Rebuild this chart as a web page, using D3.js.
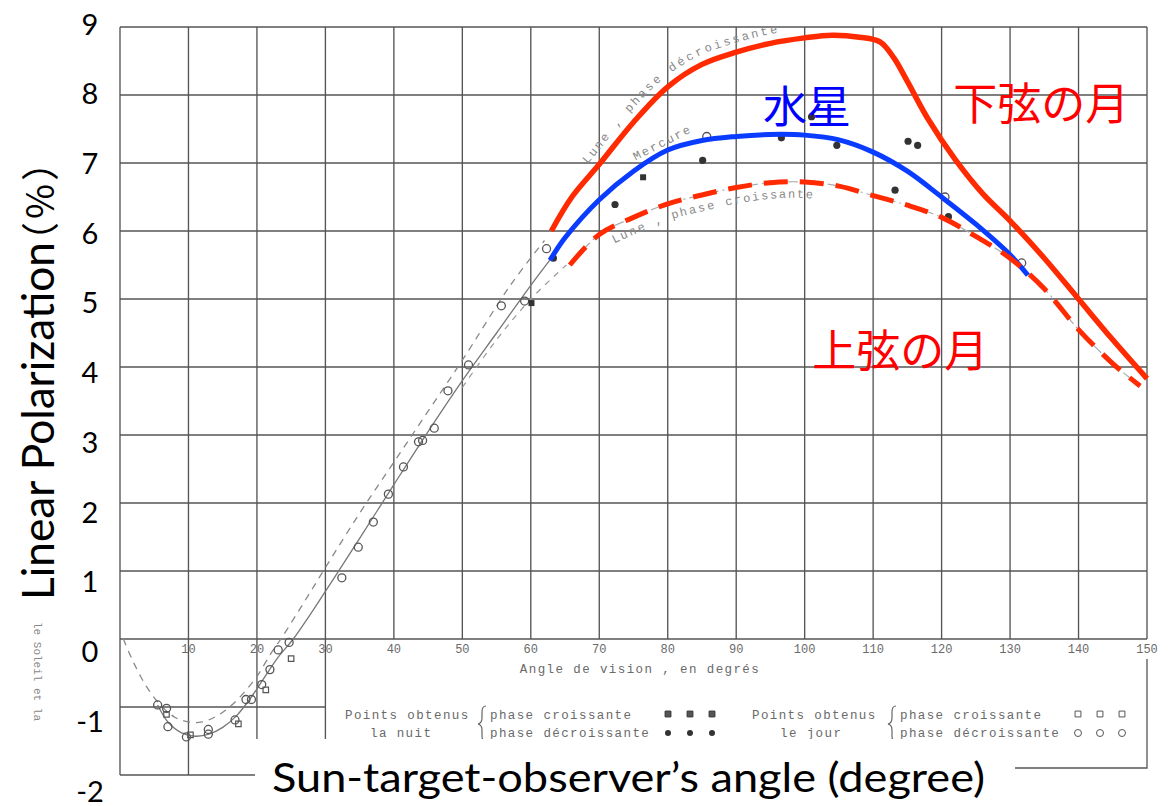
<!DOCTYPE html>
<html>
<head>
<meta charset="utf-8">
<style>
  body { margin: 0; background: #fff; }
  .grid line { stroke: #555; stroke-width: 1.35px; }
  .scan text { font-family: "Liberation Mono", monospace; fill: #6a6a6a; }
  path.curve { fill: none; }
  .overlay text { font-family: Lato, "Noto Sans CJK JP", sans-serif; fill: #000; }
  .jp { font-family: "Noto Sans CJK JP", sans-serif; }
</style>
</head>
<body>
<script src="https://cdn.jsdelivr.net/npm/d3@7"></script>
<script>

    var width = 1175;
    var height = 806;

    // scan grid + tick labels
    var gridAngles = d3.range(0, 151, 10);
    var gridValues = d3.range(-2, 10);
    var xTickLabels = [10, 20, 30, 40, 50, 60, 70, 80, 90, 100, 110, 120, 130, 140, 150];
    var yTickLabels = [9, 8, 7, 6, 5, 4, 3, 2, 1, 0, -1, -2];

    // overlaid curves [angle, polarization %]
    var moonWaning = [[63, 6.0], [66, 6.5], [70, 6.98], [75, 7.6], [80, 8.12], [85, 8.45], [90, 8.63],
        [95, 8.76], [100, 8.84], [104, 8.88], [108, 8.85], [111, 8.78], [113, 8.55], [115, 8.2],
        [118, 7.65], [122, 7.05], [126, 6.55], [130, 6.15], [135, 5.6], [140, 5.0], [145, 4.4], [150, 3.83]];
    var mercury = [[62.8, 5.57], [65, 5.9], [70, 6.46], [75, 6.88], [80, 7.19], [85, 7.33], [90, 7.39],
        [95, 7.42], [100, 7.41], [105, 7.34], [110, 7.16], [115, 6.88], [120, 6.5], [125, 6.1],
        [130, 5.65], [132.6, 5.35]];
    var moonWaxing = [[65.7, 5.5], [70, 5.95], [75, 6.2], [80, 6.4], [85, 6.53], [90, 6.64], [95, 6.71],
        [100, 6.72], [105, 6.66], [110, 6.52], [115, 6.38], [120, 6.2], [125, 5.92], [130, 5.6],
        [135, 5.15], [140, 4.55], [145, 4.05], [149, 3.72]];

    // original scan curves
    var scanSolid = [[5.5, -0.97], [7, -1.22], [9, -1.38], [11, -1.43], [13, -1.4], [15, -1.3], [17, -1.13],
        [19, -0.88], [21, -0.58], [23, -0.28], [25.3, 0], [30, 0.7], [35, 1.48], [40, 2.27], [45, 3.05],
        [50, 3.8], [55, 4.5], [60, 5.2], [63, 5.6]];
    var scanDashed = [[0.5, 0], [2, -0.35], [4, -0.72], [6, -0.98], [8, -1.15], [10, -1.22], [12, -1.22],
        [14, -1.14], [16, -1.0], [18, -0.8], [20, -0.55], [22, -0.22], [23.5, 0], [27, 0.56], [30, 1.05],
        [35, 1.85], [40, 2.6], [45, 3.35], [50, 4.1], [57, 5.2], [62, 5.86]];
    var scanDashed2 = [[50, 3.7], [55, 4.4], [60, 5.0], [65.2, 5.5]];

    // measured points
    var openPoints = [[5.5, -0.97], [6.8, -1.02], [7, -1.29], [9.7, -1.44], [12.9, -1.4], [12.9, -1.33],
        [16.8, -1.19], [18.4, -0.89], [19.2, -0.89], [20.7, -0.67], [21.9, -0.45], [23.1, -0.16],
        [24.7, -0.05], [32.4, 0.9], [34.8, 1.35], [37, 1.72], [39.2, 2.13], [41.4, 2.53], [43.6, 2.9],
        [44.2, 2.92], [45.9, 3.1], [47.9, 3.65], [50.9, 4.03], [55.7, 4.9], [59.1, 4.97], [62.3, 5.74],
        [85.7, 7.39], [120.5, 6.5], [131.7, 5.53]];
    var openSquares = [[6.5, -1.08], [10, -1.38], [17, -1.22], [21, -0.72], [24.7, -0.26]];
    var filledSquares = [[60.1, 4.94], [76.4, 6.79]];
    var filledPoints = [[63.3, 5.6], [72.3, 6.39], [85.1, 7.04], [96.6, 7.37], [101, 7.68], [104.7, 7.26],
        [113.2, 6.6], [115.1, 7.32], [116.5, 7.26], [121, 6.21]];

    var svg = d3.select("body").append("svg")
        .attr("width", width)
        .attr("height", height);

    var x = d3.scaleLinear().domain([0, 150]).range([120, 1147]);
    var y = d3.scaleLinear().domain([-2, 9]).range([775, 27]);
    var yLab = d3.scaleLinear().domain([-2, 9]).range([790, 23]);

    var line = d3.line()
        .x(function (d) { return x(d[0]); })
        .y(function (d) { return y(d[1]); })
        .curve(d3.curveCatmullRom.alpha(0.5));

    // --- scanned chart ---
    var scan = svg.append("g").attr("class", "scan");
    var grid = scan.append("g").attr("class", "grid");

    grid.selectAll("line.v").data(gridAngles).enter().append("line")
        .attr("x1", function (d) { return x(d); })
        .attr("x2", function (d) { return x(d); })
        .attr("y1", y(9))
        .attr("y2", function (d) { return d <= 30 ? y(-2) : y(0); });

    grid.selectAll("line.h").data(gridValues).enter().append("line")
        .attr("x1", x(0))
        .attr("x2", function (d) { return d < 0 ? x(30) : x(150); })
        .attr("y1", function (d) { return y(d); })
        .attr("y2", function (d) { return y(d); });

    scan.selectAll("text.xt").data(xTickLabels).enter().append("text")
        .attr("x", function (d) { return x(d); })
        .attr("y", y(0) + 14)
        .attr("text-anchor", "middle")
        .style("font-size", "12px")
        .text(function (d) { return d; });

    scan.append("text")
        .attr("x", 640).attr("y", 673)
        .attr("text-anchor", "middle")
        .style("font-size", "12.5px").style("letter-spacing", "1.4px")
        .text("Angle de vision , en degrés");

    var legendRows = [
        {x: 345, y: 719, t: "Points obtenus"}, {x: 370, y: 737, t: "la nuit"},
        {x: 490, y: 719, t: "phase croissante"}, {x: 490, y: 737, t: "phase décroissante"},
        {x: 752, y: 719, t: "Points obtenus"}, {x: 780, y: 737, t: "le jour"},
        {x: 900, y: 719, t: "phase croissante"}, {x: 900, y: 737, t: "phase décroissante"}
    ];
    scan.selectAll("text.lg").data(legendRows).enter().append("text")
        .attr("x", function (d) { return d.x; })
        .attr("y", function (d) { return d.y; })
        .style("font-size", "12.5px").style("letter-spacing", "1.4px")
        .text(function (d) { return d.t; });

    [481, 891].forEach(function (bx) {
        scan.append("path")
            .attr("d", "M" + (bx + 5) + ",706 q-4,0 -4,6 v6 q0,5 -4,6 q4,1 4,6 v6 q0,6 4,6")
            .attr("fill", "none").attr("stroke", "#666").attr("stroke-width", 1.2);
    });

    var sym = d3.symbol().size(34);
    [668, 690, 712].forEach(function (sx) {
        scan.append("path").attr("transform", "translate(" + sx + ",714)")
            .attr("d", sym.type(d3.symbolSquare)()).attr("fill", "#555").attr("stroke", "#333");
        scan.append("circle").attr("cx", sx).attr("cy", 733).attr("r", 3).attr("fill", "#333");
    });
    [1078, 1100, 1122].forEach(function (sx) {
        scan.append("path").attr("transform", "translate(" + sx + ",714)")
            .attr("d", sym.type(d3.symbolSquare)()).attr("fill", "none").attr("stroke", "#555");
        scan.append("circle").attr("cx", sx).attr("cy", 733).attr("r", 3.5)
            .attr("fill", "none").attr("stroke", "#555");
    });

    scan.append("path")
        .attr("d", "M" + x(150) + "," + (y(0) + 20) + "V768H1010")
        .attr("fill", "none").attr("stroke", "#555").attr("stroke-width", 1.3);

    scan.append("text")
        .attr("transform", "translate(34,622) rotate(90)")
        .style("font-size", "11px").style("fill", "#888")
        .text("le Soleil et la");

    // scan curves
    scan.append("path").attr("class", "curve").attr("d", line(scanSolid))
        .attr("stroke", "#777").attr("stroke-width", 1.3);
    scan.append("path").attr("class", "curve").attr("d", line(scanDashed))
        .attr("stroke", "#888").attr("stroke-width", 1.3).attr("stroke-dasharray", "7,6");
    scan.append("path").attr("class", "curve").attr("d", line(scanDashed2))
        .attr("stroke", "#999").attr("stroke-width", 1.2).attr("stroke-dasharray", "6,6");
    scan.append("path").attr("class", "curve").attr("d", line(moonWaxing))
        .attr("stroke", "#aaa").attr("stroke-width", 1.2).attr("stroke-dasharray", "10,4,2,4");

    // curve names along the scan curves
    var defs = svg.append("defs");
    defs.append("path").attr("id", "pWaning").attr("d", line(moonWaning));
    defs.append("path").attr("id", "pWaxing").attr("d", line(moonWaxing));

    scan.append("text").attr("dy", -9)
        .style("font-size", "12px").style("letter-spacing", "2.2px").style("fill", "#888")
        .append("textPath").attr("href", "#pWaning").attr("startOffset", 75)
        .text("Lune , phase décroissante");
    scan.append("text").attr("dy", 16)
        .style("font-size", "12px").style("letter-spacing", "2.2px").style("fill", "#888")
        .append("textPath").attr("href", "#pWaxing").attr("startOffset", 52)
        .text("Lune , phase croissante");
    scan.append("text")
        .attr("transform", "translate(" + x(79.5) + "," + y(7.25) + ") rotate(-27)")
        .attr("text-anchor", "middle")
        .style("font-size", "12px").style("letter-spacing", "2px").style("fill", "#888")
        .text("Mercure");

    // points
    scan.selectAll("circle.o").data(openPoints).enter().append("circle")
        .attr("cx", function (d) { return x(d[0]); })
        .attr("cy", function (d) { return y(d[1]); })
        .attr("r", 4).attr("fill", "none").attr("stroke", "#555").attr("stroke-width", 1.3);
    scan.selectAll("path.sq").data(openSquares).enter().append("path")
        .attr("transform", function (d) { return "translate(" + (x(d[0]) + 2) + "," + (y(d[1]) + 2) + ")"; })
        .attr("d", d3.symbol().type(d3.symbolSquare).size(30)())
        .attr("fill", "none").attr("stroke", "#555").attr("stroke-width", 1.2);
    scan.selectAll("path.fsq").data(filledSquares).enter().append("path")
        .attr("transform", function (d) { return "translate(" + x(d[0]) + "," + y(d[1]) + ")"; })
        .attr("d", d3.symbol().type(d3.symbolSquare).size(36)())
        .attr("fill", "#333");
    scan.selectAll("circle.f").data(filledPoints).enter().append("circle")
        .attr("cx", function (d) { return x(d[0]); })
        .attr("cy", function (d) { return y(d[1]); })
        .attr("r", 3.6).attr("fill", "#333");

    // --- overlay ---
    var over = svg.append("g").attr("class", "overlay");

    over.append("path").attr("class", "curve").attr("d", line(moonWaning))
        .attr("stroke", "#ff2a00").attr("stroke-width", 5.5);
    over.append("path").attr("class", "curve").attr("d", line(mercury))
        .attr("stroke", "#0a3cff").attr("stroke-width", 5);
    over.append("path").attr("class", "curve").attr("d", line(moonWaxing))
        .attr("stroke", "#ff2a00").attr("stroke-width", 5).attr("stroke-dasharray", "24,12");

    over.append("text").attr("class", "jp")
        .attr("x", x(121.7)).attr("y", y(7.88)).attr("dominant-baseline", "central")
        .style("font-size", "44px").style("fill", "#ff0000").text("下弦の月");
    over.append("text").attr("class", "jp")
        .attr("x", x(93.9)).attr("y", y(7.84)).attr("dominant-baseline", "central")
        .style("font-size", "44px").style("fill", "#0000ff").text("水星");
    over.append("text").attr("class", "jp")
        .attr("x", x(101.1)).attr("y", y(4.25)).attr("dominant-baseline", "central")
        .style("font-size", "44px").style("fill", "#ff0000").text("上弦の月");

    over.selectAll("text.yl").data(yTickLabels).enter().append("text")
        .attr("x", 90)
        .attr("y", function (d) { return yLab(d); })
        .attr("text-anchor", "middle")
        .attr("dominant-baseline", "central")
        .style("font-size", "29px")
        .text(function (d) { return d; });

    // y title: size the latin part to its span, then the full-width brackets
    var yTitle = over.append("text")
        .attr("transform", "translate(54,600) rotate(-90)")
        .style("font-size", "40px");
    var yMain = yTitle.append("tspan").text("Linear Polarization");
    var len = yMain.node().getComputedTextLength();
    yTitle.style("font-size", (40 * 358 / len) + "px");
    yTitle.append("tspan")
        .attr("class", "jp")
        .attr("dx", -18)
        .style("font-size", "38px")
        .style("letter-spacing", "3px")
        .text("（%）");

    over.append("rect")
        .attr("x", 255).attr("y", 739).attr("width", 760).attr("height", 67)
        .attr("fill", "#fff");
    over.append("text")
        .attr("x", 272).attr("y", 792)
        .attr("textLength", 713).attr("lengthAdjust", "spacingAndGlyphs")
        .style("font-size", "40px")
        .text("Sun-target-observer’s angle (degree)");

</script>
</body>
</html>
